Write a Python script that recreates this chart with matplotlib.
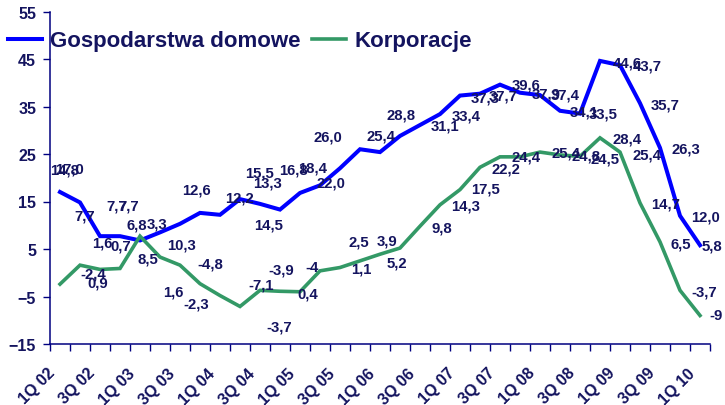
import matplotlib
matplotlib.use("Agg")
import matplotlib.pyplot as plt
import matplotlib.transforms as mtransforms
import numpy as np

# kwartały 1Q 02 - 1Q 10
kwartaly = [f"{q}Q {r:02d}" for r in range(2, 11) for q in range(1, 5)][:33]

gospodarstwa = [17.0, 14.8, 7.7, 7.7, 6.8, 8.5, 10.3, 12.6, 12.2, 15.5, 14.5,
                13.3, 16.8, 18.4, 22.0, 26.0, 25.4, 28.8, 31.1, 33.4, 37.3, 37.7,
                39.6, 37.9, 37.4, 34.1, 33.5, 44.6, 43.7, 35.7, 26.3, 12.0, 5.8]
korporacje = [-2.4, 1.6, 0.7, 0.9, 7.7, 3.3, 1.6, -2.3, -4.8, -7.1, -3.7,
              -3.9, -4, 0.4, 1.1, 2.5, 3.9, 5.2, 9.8, 14.3, 17.5, 22.2,
              24.4, 24.4, 25.4, 24.8, 24.5, 28.4, 25.4, 14.7, 6.5, -3.7, -9]

# przesunięcia etykiet (piksele: w prawo, w dół)
off_gosp = [(9, -23), (-15, -33), (-15, -21), (-3, -31), (-3, -16), (-12, 26),
            (2, 21), (-4, -23), (19, -17), (19, -27), (9, 21), (-12, -27),
            (-6, -23), (-7, -18), (-9, 14), (-32, -13), (1, -17), (1, -21),
            (25, 0), (26, 1), (25, 2), (23, 2), (26, 0), (26, 1), (25, -1),
            (24, 1), (23, 0), (27, 2), (27, 0), (25, 1), (26, 1), (26, 1), (12, 0)]
off_korp = [(33, -11), (22, -23), (21, -24), (-22, 14), (-11, -31), (-3, -34),
            (-7, 26), (-4, 20), (-10, -32), (21, -22), (19, 36), (1, -22),
            (12, -25), (-12, 23), (21, 1), (-1, -19), (7, -14), (-3, 14),
            (22, 1), (26, 1), (26, -1), (26, 1), (26, 0), None, (26, 0),
            (26, 1), (25, 2), (27, 1), (27, 2), (26, 1), (21, 2), (24, 1), (16, 0)]

NAVY = "#14145f"
plt.rcParams["font.family"] = ["Liberation Sans", "DejaVu Sans"]

fig = plt.figure(figsize=(7.25, 4.06), dpi=100)
ax = fig.add_axes([50 / 725, 1 - 345 / 406, 660 / 725, 332.5 / 406])

x = np.arange(len(kwartaly))
l1, = ax.plot(x, gospodarstwa, color="#0000ff", lw=2.9, solid_joinstyle="miter",
              label="Gospodarstwa domowe")
l2, = ax.plot(x, korporacje, color="#339966", lw=2.6, solid_joinstyle="miter",
              label="Korporacje")


def fmt(v):
    if isinstance(v, int):
        return str(v)
    return f"{v:.1f}".replace(".", ",")


for vals, offs in [(gospodarstwa, off_gosp), (korporacje, off_korp)]:
    for i, (v, o) in enumerate(zip(vals, offs)):
        if o is None:
            continue
        ax.annotate(fmt(v), (i, v), xytext=(o[0], -o[1]), textcoords="offset pixels",
                    ha="center", va="center", fontsize=10.7, fontweight="bold",
                    color=NAVY, annotation_clip=False)

ax.set_xlim(-0.5, len(kwartaly) - 0.5)
ax.set_ylim(-15, 55)
ax.set_yticks(np.arange(-15, 56, 10))

ax.set_xticks(np.arange(-0.5, len(kwartaly), 1))
ax.set_xticklabels([])
ax.set_xticks(x[::2], kwartaly[::2], minor=True)
ax.tick_params(axis="x", which="minor", length=0, pad=0)
ax.tick_params(which="major", direction="out", length=5, width=1, color="#000080")
ax.tick_params(axis="y", pad=5)

# etykiety osi X przesunięte w dół i w lewo jak w oryginale
shift = mtransforms.ScaledTranslation(-13 / 100, -21 / 100, fig.dpi_scale_trans)
for lab in ax.get_xticklabels(minor=True):
    lab.set_rotation(45)
    lab.set_ha("right")
    lab.set_va("top")
    lab.set_rotation_mode("anchor")
    lab.set_transform(lab.get_transform() + shift)
for lab in ax.get_xticklabels(minor=True) + ax.get_yticklabels():
    lab.set_fontsize(11.5)
    lab.set_fontweight("bold")
    lab.set_color(NAVY)

for s in ["top", "right"]:
    ax.spines[s].set_visible(False)
for s in ["left", "bottom"]:
    ax.spines[s].set_color("#000080")
    ax.spines[s].set_linewidth(1.1)

fig.legend(handles=[l1, l2], loc="center left", bbox_to_anchor=(8 / 725, 1 - 42 / 406),
           ncol=2, frameon=False, handlelength=1.55, handletextpad=0.35,
           columnspacing=0.5, borderpad=0, borderaxespad=0,
           prop={"size": 16, "weight": "bold"}, labelcolor=NAVY)

fig.savefig("out.png", dpi=100)
